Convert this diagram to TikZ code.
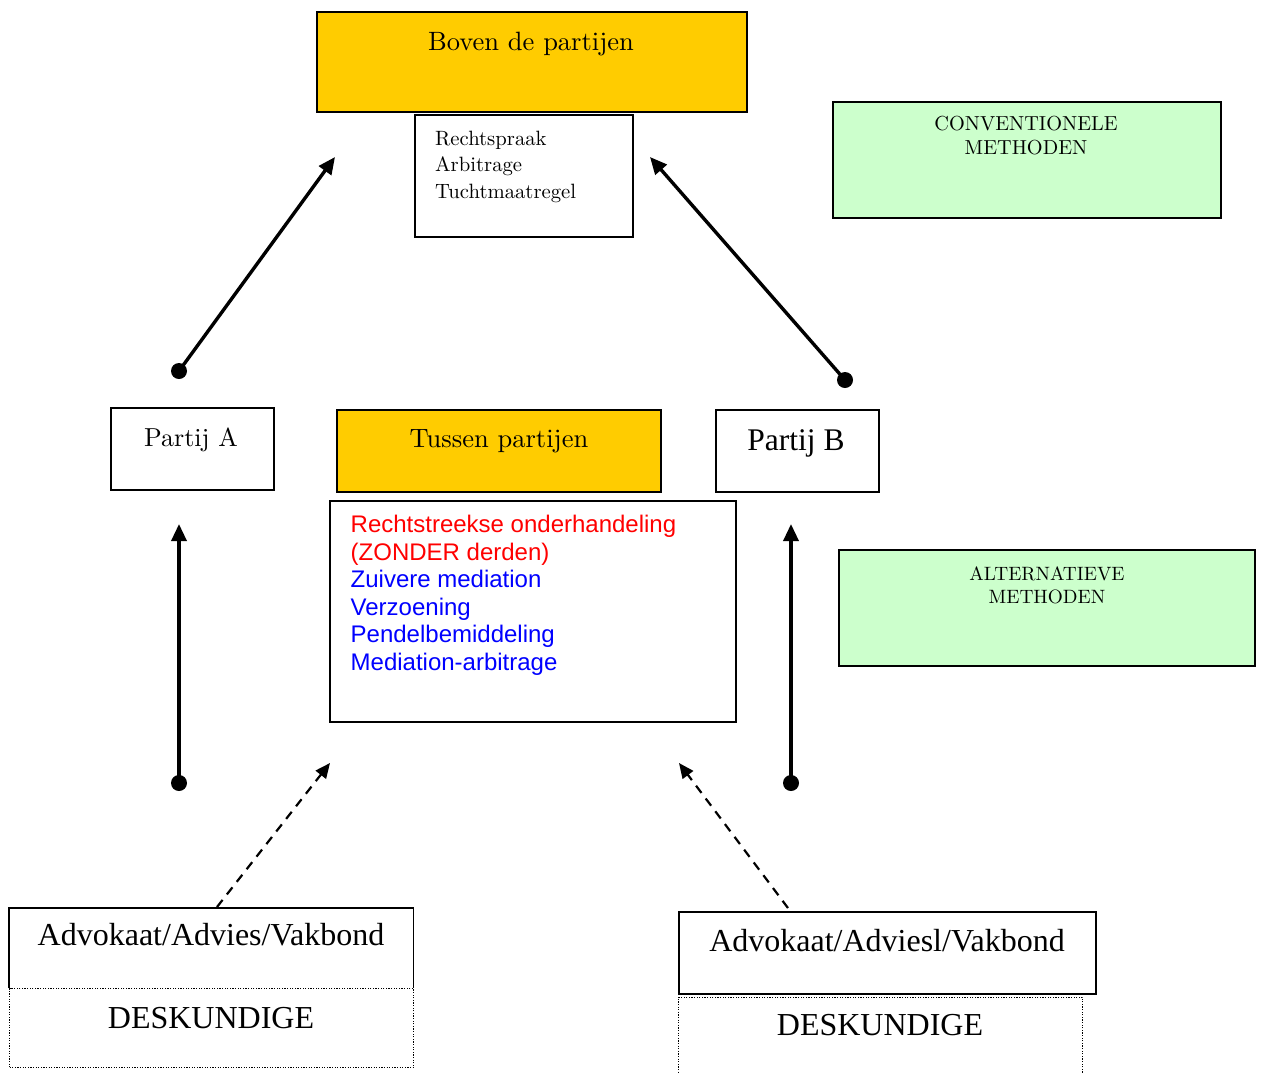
\documentclass[tikz,border=0pt]{standalone}
\usepackage{fontspec}
\newfontfamily\timesfont{Liberation Serif}
\newfontfamily\arialfont{Liberation Sans}
\newfontfamily\romfont{lmroman10-regular.otf}
\usetikzlibrary{arrows.meta}
\definecolor{gold}{HTML}{FFCC00}
\definecolor{mint}{HTML}{CCFFCC}
\definecolor{txtred}{HTML}{FF0000}
\definecolor{txtblue}{HTML}{0000FF}

\begin{document}
\begin{tikzpicture}[x=1pt,y=-1pt,
  box/.style={draw=black, line width=1.8pt, rectangle, anchor=north west, inner sep=0pt},
  openbox/.style={rectangle, anchor=north west, inner sep=0pt},
  dotbox/.style={draw=black, line width=1.2pt, dash pattern=on 1.2pt off 1.4pt,
                 rectangle, anchor=north west, inner sep=0pt, fill=white},
  txt/.style={inner sep=0pt, anchor=base},
  ltxt/.style={inner sep=0pt, anchor=base west},
  conn/.style={line width=3.4pt, -{Triangle[length=17pt,width=15pt]}},
  hint/.style={line width=2.2pt, dash pattern=on 9pt off 7pt, -{Triangle[length=15pt,width=13pt]}},
  dot/.style={fill=black}]
\useasboundingbox (0,0) rectangle (1262,1072);

% --- upper level: above the parties
\node[box, fill=gold, minimum width=430, minimum height=100] (boven) at (316,11) {};
\node[txt, font=\romfont\fontsize{26.5}{30}\selectfont] (bovenT) at (531,50) {Boven de partijen};
\node[box, fill=white, minimum width=218, minimum height=122] (recht) at (414,114) {};
\node[ltxt, font=\romfont\fontsize{20.7}{26}\selectfont] (r1) at (435,145.7) {Rechtspraak};
\node[ltxt, font=\romfont\fontsize{20.7}{26}\selectfont] (r2) at (435,171.7) {Arbitrage};
\node[ltxt, font=\romfont\fontsize{20.7}{26}\selectfont] (r3) at (435,198) {Tuchtmaatregel};

\node[box, fill=mint, minimum width=388, minimum height=116] (conv) at (832,101) {};
\node[txt, font=\romfont\fontsize{20.3}{24}\selectfont] (c1) at (1026,130) {CONVENTIONELE};
\node[txt, font=\romfont\fontsize{20.3}{24}\selectfont] (c2) at (1026,154) {METHODEN};

% --- middle level: the parties and between them
\node[box, minimum width=163, minimum height=82] (partA) at (110,407) {};
\node[txt, font=\romfont\fontsize{26}{30}\selectfont] (partAT) at (191,446) {Partij A};
\node[box, fill=gold, minimum width=324, minimum height=82] (tussen) at (336,409) {};
\node[txt, font=\romfont\fontsize{26.5}{30}\selectfont] (tussenT) at (499,447) {Tussen partijen};
\node[box, minimum width=163, minimum height=82] (partB) at (715,409) {};
\node[txt, font=\timesfont\fontsize{31.5}{36}\selectfont] (partBT) at (796,450) {Partij B};

\node[box, minimum width=406, minimum height=221] (meth) at (329,500) {};
\begin{scope}[every node/.style={ltxt, font=\arialfont\fontsize{24}{27}\selectfont}]
\node[text=txtred] (m1) at (350.5,532.7) {Rechtstreekse onderhandeling};
\node[text=txtred] (m2) at (350.5,560) {(ZONDER derden)};
\node[text=txtblue] (m3) at (350.5,587.3) {Zuivere mediation};
\node[text=txtblue] (m4) at (350.5,615) {Verzoening};
\node[text=txtblue] (m5) at (350.5,642.5) {Pendelbemiddeling};
\node[text=txtblue] (m6) at (350.5,670) {Mediation-arbitrage};
\end{scope}

\node[box, fill=mint, minimum width=416, minimum height=116] (alt) at (838,549) {};
\node[txt, font=\romfont\fontsize{19.3}{24}\selectfont] (a1) at (1047,580) {ALTERNATIEVE};
\node[txt, font=\romfont\fontsize{19.3}{24}\selectfont] (a2) at (1047,603) {METHODEN};

% --- lower level: advisers and experts
\node[openbox, minimum width=404, minimum height=80] (advL) at (9,908) {};
\draw[line width=1.8pt] (advL.south west) |- (advL.north east) -- (advL.south east);
\node[dotbox, minimum width=404, minimum height=79] (deskL) at (9,988) {};
\node[txt, font=\timesfont\fontsize{32}{36}\selectfont] (advLT) at (211,945) {Advokaat/Advies/Vakbond};
\node[txt, font=\timesfont\fontsize{32}{36}\selectfont] (deskLT) at (211,1028) {DESKUNDIGE};

\node[box, minimum width=417, minimum height=82] (advR) at (678,911) {};
\node[dotbox, minimum width=404, minimum height=90] (deskR) at (678,996.5) {};
\node[txt, font=\timesfont\fontsize{32}{36}\selectfont] (advRT) at (887,951.5) {Advokaat/Adviesl/Vakbond};
\node[txt, font=\timesfont\fontsize{32}{36}\selectfont] (deskRT) at (880,1035) {DESKUNDIGE};

% --- connectors
\coordinate (upLs) at (179,371);  \coordinate (upLe) at (335,157);
\coordinate (upRs) at (845,380);  \coordinate (upRe) at (650,157);
\coordinate (vLs) at (179,783);   \coordinate (vLe) at (179,524);
\coordinate (vRs) at (791,783);   \coordinate (vRe) at (791,524);
\coordinate (dLs) at (217,907);   \coordinate (dLe) at (330,763);
\coordinate (dRs) at (788,908);   \coordinate (dRe) at (679,763);

\draw[conn] (upLs) -- (upLe);
\draw[conn] (upRs) -- (upRe);
\draw[conn] (vLs) -- (vLe);
\draw[conn] (vRs) -- (vRe);
\foreach \p in {upLs,upRs,vLs,vRs} \fill[dot] (\p) circle (8);
\draw[hint] (dLs) -- (dLe);
\draw[hint] (dRs) -- (dRe);
\end{tikzpicture}
\end{document}
